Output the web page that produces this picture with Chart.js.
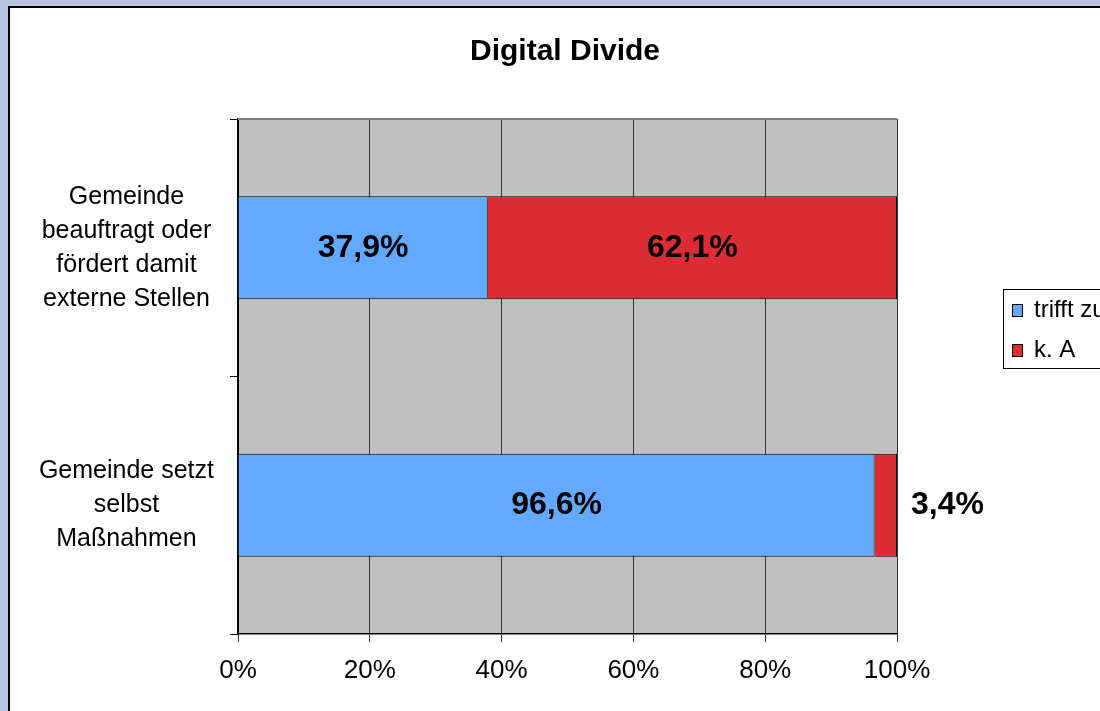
<!DOCTYPE html>
<html>
<head>
<meta charset="utf-8">
<script src="https://cdn.jsdelivr.net/npm/chart.js@4.4.1/dist/chart.umd.min.js"></script>
<style>
html,body{margin:0;padding:0;background:#b9c4e2;}
#wrap{width:1100px;height:711px;position:relative;}
canvas{display:block;}
</style>
</head>
<body>
<div id="wrap"><canvas id="c" width="1100" height="711"></canvas></div>
<script>
const chartTitle = 'Digital Divide';
const categories = [
  ['Gemeinde', 'beauftragt oder', 'fördert damit', 'externe Stellen'],
  ['Gemeinde setzt', 'selbst', 'Maßnahmen']
];
const seriesNames = ['trifft zu', 'k. A'];
const trifftZu = [37.9, 96.6];
const keineAngabe = [62.1, 3.4];
const seriesColors = ['#63aaff', '#dd2d34'];
const xTicks = [0, 20, 40, 60, 80, 100];

const FONT = '"Liberation Sans", Arial, sans-serif';
Chart.defaults.font.family = FONT;
Chart.defaults.color = '#000';

const fmt = v => v.toFixed(1).replace('.', ',') + '%';

const framePlugin = {
  id: 'frame',
  beforeDraw(chart) {
    const ctx = chart.ctx, a = chart.chartArea;
    ctx.save();
    ctx.fillStyle = '#b9c4e2';
    ctx.fillRect(0, 0, chart.width, chart.height);
    ctx.fillStyle = '#ffffff';
    ctx.fillRect(8, 6, chart.width - 8, chart.height - 6);
    ctx.strokeStyle = '#000';
    ctx.lineWidth = 2;
    ctx.beginPath();
    ctx.moveTo(9, chart.height);
    ctx.lineTo(9, 7);
    ctx.lineTo(chart.width, 7);
    ctx.stroke();
    ctx.fillStyle = '#c0c0c0';
    ctx.fillRect(a.left, a.top, a.right - a.left, a.bottom - a.top);
    // title
    ctx.fillStyle = '#000';
    ctx.font = 'bold 30px ' + FONT;
    ctx.textAlign = 'center';
    ctx.textBaseline = 'middle';
    ctx.fillText(chartTitle, 565, 52);
    ctx.restore();
  },
  afterDatasetsDraw(chart) {
    const ctx = chart.ctx, a = chart.chartArea;
    ctx.save();
    ctx.strokeStyle = '#808080';
    ctx.lineWidth = 2;
    ctx.beginPath();
    ctx.moveTo(a.left, a.top);
    ctx.lineTo(a.right, a.top);
    ctx.stroke();
    // data labels
    ctx.font = 'bold 32px ' + FONT;
    ctx.fillStyle = '#000';
    ctx.textBaseline = 'middle';
    chart.data.datasets.forEach((ds, i) => {
      const meta = chart.getDatasetMeta(i);
      meta.data.forEach((bar, j) => {
        const p = bar.getProps(['x', 'y', 'base'], true);
        const txt = fmt(ds.data[j]);
        const w = ctx.measureText(txt).width;
        const seg = Math.abs(p.x - p.base);
        if (seg > w + 6) {
          ctx.textAlign = 'center';
          ctx.fillText(txt, (p.x + p.base) / 2, p.y);
        } else {
          ctx.textAlign = 'left';
          ctx.fillText(txt, Math.max(p.x, p.base) + 14, p.y);
        }
      });
    });
    // legend
    const lx = 1003, ly = 289;
    ctx.fillStyle = '#fff';
    ctx.fillRect(lx, ly, 120, 79);
    ctx.strokeStyle = '#000';
    ctx.lineWidth = 1;
    ctx.strokeRect(lx + 0.5, ly + 0.5, 120, 79);
    ctx.font = '24px ' + FONT;
    ctx.textAlign = 'left';
    ctx.textBaseline = 'middle';
    chart.data.datasets.forEach((ds, i) => {
      const cy = ly + 21 + i * 40;
      ctx.fillStyle = ds.backgroundColor;
      ctx.fillRect(lx + 9, cy - 6, 10, 12);
      ctx.strokeRect(lx + 9.5, cy - 5.5, 10, 12);
      ctx.fillStyle = '#000';
      ctx.fillText(ds.label, lx + 31, cy);
    });
    ctx.restore();
  }
};

new Chart(document.getElementById('c'), {
  type: 'bar',
  data: {
    labels: categories,
    datasets: [
      { label: seriesNames[0], data: trifftZu, backgroundColor: seriesColors[0], borderColor: '#000', borderWidth: 1, barPercentage: 0.4, categoryPercentage: 1 },
      { label: seriesNames[1], data: keineAngabe, backgroundColor: seriesColors[1], borderColor: '#000', borderWidth: 1, barPercentage: 0.4, categoryPercentage: 1 }
    ]
  },
  options: {
    indexAxis: 'y',
    responsive: false,
    animation: false,
    layout: { padding: { top: 119, right: 203, left: 0, bottom: 0 } },
    plugins: { legend: { display: false }, title: { display: false }, tooltip: { enabled: false } },
    scales: {
      x: {
        stacked: true,
        min: 0, max: 100,
        afterBuildTicks(s) { s.ticks = xTicks.map(v => ({ value: v })); },
        afterFit(s) { s.height = 77; s.paddingLeft = 0; s.paddingRight = 0; },
        ticks: { callback: v => v + '%', font: { size: 26 }, padding: 13, maxRotation: 0 },
        grid: { color: '#333', lineWidth: 1, tickLength: 8, drawTicks: true },
        border: { color: '#000', width: 1.5 }
      },
      y: {
        stacked: true,
        afterFit(s) { s.width = 238; s.paddingTop = 0; s.paddingBottom = 0; },
        ticks: { crossAlign: 'center', font: { size: 25, lineHeight: 1.36 }, padding: 16 },
        grid: { drawOnChartArea: false, color: '#000', tickLength: 8, offset: true },
        border: { color: '#000', width: 2 }
      }
    }
  },
  plugins: [framePlugin]
});
</script>
</body>
</html>
